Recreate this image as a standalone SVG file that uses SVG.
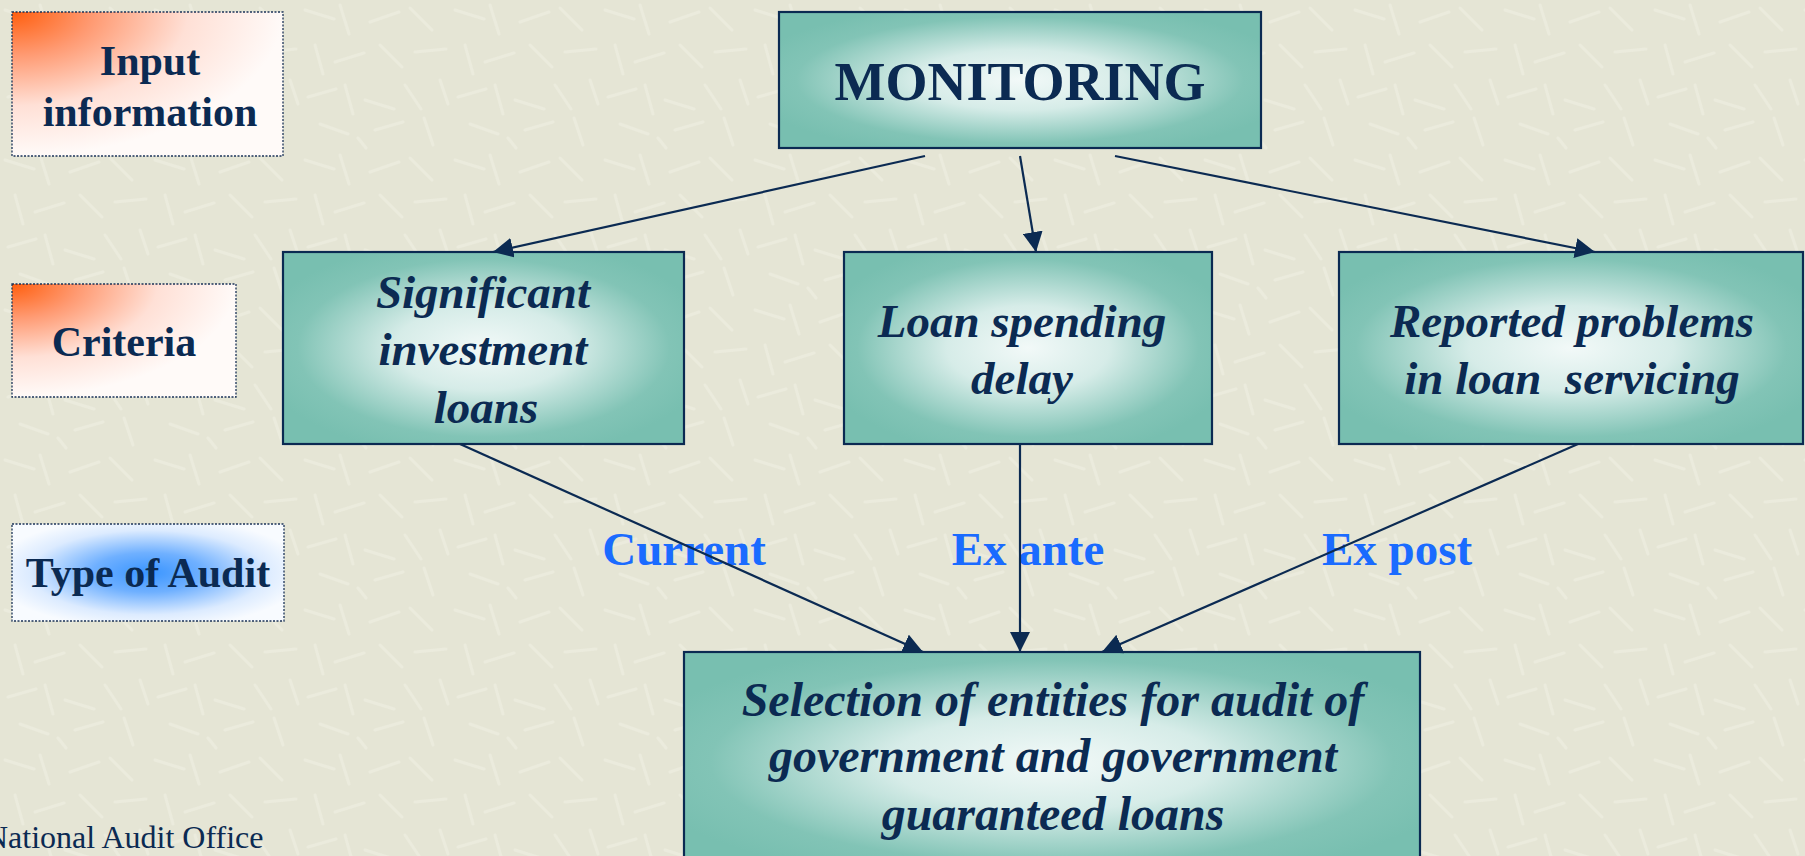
<svg xmlns="http://www.w3.org/2000/svg" width="1805" height="856" viewBox="0 0 1805 856">
<defs>
<style>
.bg{fill:#E5E5D5}
.teal{stroke:#0B2A52;stroke-width:2.2}
.lbl{stroke:#1B3358;stroke-width:1.3;stroke-dasharray:2 1.5}
.t{font-family:"Liberation Serif","Times New Roman",serif;font-weight:bold;fill:#0B2A52;text-anchor:middle}
.it{font-style:italic;font-size:47px}
.small{font-size:42px}
.blue{font-family:"Liberation Serif","Times New Roman",serif;font-weight:bold;font-size:47px;fill:#1A6BFF;text-anchor:middle}
.conn{stroke:#0B2A52;stroke-width:2.2;fill:none}
.foot{font-family:"Liberation Serif","Times New Roman",serif;font-size:32px;fill:#0B2A52}
</style>
<pattern id="tex" width="150" height="150" patternUnits="userSpaceOnUse">
<g stroke="#EFEFE2" stroke-width="3" stroke-linecap="round" opacity="0.6">
<line x1="5" y1="10" x2="34" y2="19"/><line x1="40" y1="5" x2="49" y2="34"/><line x1="70" y1="22" x2="99" y2="12"/>
<line x1="110" y1="8" x2="132" y2="30"/><line x1="15" y1="45" x2="23" y2="74"/><line x1="35" y1="62" x2="64" y2="53"/>
<line x1="80" y1="45" x2="102" y2="67"/><line x1="115" y1="52" x2="146" y2="49"/><line x1="8" y1="97" x2="36" y2="89"/>
<line x1="45" y1="85" x2="53" y2="114"/><line x1="65" y1="100" x2="94" y2="109"/><line x1="105" y1="85" x2="121" y2="109"/>
<line x1="20" y1="124" x2="48" y2="134"/><line x1="75" y1="130" x2="103" y2="122"/><line x1="124" y1="118" x2="133" y2="145"/>
<line x1="140" y1="80" x2="148" y2="104"/><line x1="58" y1="138" x2="66" y2="148"/>
</g>
</pattern>
<radialGradient id="gTeal" cx="0.5" cy="0.5" r="0.58">
<stop offset="0" stop-color="#F2F9F8"/>
<stop offset="0.38" stop-color="#D6ECE8"/>
<stop offset="0.8" stop-color="#82C4B6"/>
<stop offset="1" stop-color="#78BFB0"/>
</radialGradient>
<radialGradient id="gOrange" cx="0" cy="0" r="1">
<stop offset="0" stop-color="#FF5E0E"/>
<stop offset="0.3" stop-color="#FF9A72"/>
<stop offset="0.65" stop-color="#FFE0D6"/>
<stop offset="1" stop-color="#FFFAF8"/>
</radialGradient>
<radialGradient id="gBlue" cx="0.5" cy="0.5" r="0.58">
<stop offset="0" stop-color="#3A95FF"/>
<stop offset="0.35" stop-color="#6FB0FF"/>
<stop offset="0.75" stop-color="#DCEBFF"/>
<stop offset="1" stop-color="#F8FBFF"/>
</radialGradient>
<marker id="ah" markerWidth="20" markerHeight="20" refX="20" refY="10" orient="auto" markerUnits="userSpaceOnUse" viewBox="0 0 20 20">
<path d="M0,0 L20,10 L0,20 z" fill="#0B2A52"/>
</marker>
</defs>
<rect class="bg" x="0" y="0" width="1805" height="856"/>
<rect x="0" y="0" width="1805" height="856" fill="url(#tex)"/>

<g id="input-information">
<rect class="lbl" x="12" y="12" width="271" height="144" fill="url(#gOrange)"/>
<text class="t small" x="150" y="75">Input</text>
<text class="t small" x="150" y="126">information</text>
</g>
<g id="criteria">
<rect class="lbl" x="12" y="284" width="224" height="113" fill="url(#gOrange)"/>
<text class="t small" x="124" y="356">Criteria</text>
</g>
<g id="type-of-audit">
<rect class="lbl" x="12" y="524" width="272" height="97" fill="url(#gBlue)"/>
<text class="t small" x="148" y="587">Type of Audit</text>
</g>

<g id="monitoring">
<rect class="teal" x="779" y="12" width="482" height="136" fill="url(#gTeal)"/>
<text class="t" x="1020" y="100" font-size="54">MONITORING</text>
</g>
<g id="significant-investment-loans">
<rect class="teal" x="283" y="252" width="401" height="192" fill="url(#gTeal)"/>
<text class="t it" x="483" y="308">Significant</text>
<text class="t it" x="483" y="365">investment</text>
<text class="t it" x="486" y="423">loans</text>
</g>
<g id="loan-spending-delay">
<rect class="teal" x="844" y="252" width="368" height="192" fill="url(#gTeal)"/>
<text class="t it" x="1022" y="337">Loan spending</text>
<text class="t it" x="1022" y="394">delay</text>
</g>
<g id="reported-problems">
<rect class="teal" x="1339" y="252" width="464" height="192" fill="url(#gTeal)"/>
<text class="t it" x="1572" y="337">Reported problems</text>
<text class="t it" x="1572" y="394" xml:space="preserve">in loan  servicing</text>
</g>
<g id="selection">
<rect class="teal" x="684" y="652" width="736" height="220" fill="url(#gTeal)"/>
<text class="t" x="1053" y="716" font-size="48" font-style="italic">Selection of entities for audit of</text>
<text class="t" x="1053" y="772" font-size="48" font-style="italic">government and government</text>
<text class="t" x="1053" y="830" font-size="48" font-style="italic">guaranteed loans</text>
</g>

<g id="edge-labels">
<text class="blue" x="684" y="565">Current</text>
<text class="blue" x="1028" y="565">Ex ante</text>
<text class="blue" x="1397" y="565">Ex post</text>
</g>

<g id="connectors">
<line class="conn" x1="925" y1="156" x2="493" y2="252" marker-end="url(#ah)"/>
<line class="conn" x1="1020" y1="156" x2="1036" y2="252" marker-end="url(#ah)"/>
<line class="conn" x1="1115" y1="156" x2="1595" y2="252" marker-end="url(#ah)"/>
<line class="conn" x1="460" y1="444" x2="923" y2="652" marker-end="url(#ah)"/>
<line class="conn" x1="1020" y1="444" x2="1020" y2="652" marker-end="url(#ah)"/>
<line class="conn" x1="1578" y1="444" x2="1102" y2="652" marker-end="url(#ah)"/>
</g>

<text class="foot" x="-15" y="848">National Audit Office</text>
</svg>
